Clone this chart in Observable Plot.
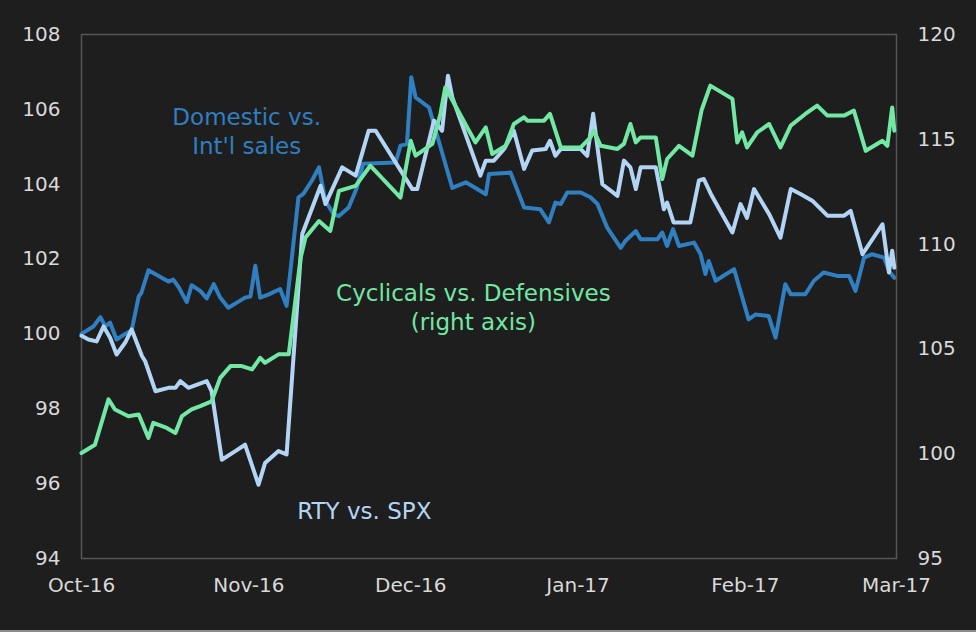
<!DOCTYPE html>
<html><head><meta charset="utf-8">
<script src="https://cdn.jsdelivr.net/npm/d3@7"></script>
<script src="https://cdn.jsdelivr.net/npm/@observablehq/plot@0.6"></script>
<style>
html,body{margin:0;padding:0;background:#1e1e1e;}
#chart{width:976px;height:632px;background:#1e1e1e;box-shadow:inset 0 -2px 0 #8c8c8c;}
#chart svg{display:block;}
</style></head><body><div id="chart"></div>
<script>
// x positions are day offsets from 1 Oct 2016
const monthTicks = ["2016-10-01","2016-11-01","2016-12-01","2017-01-01","2017-02-01","2017-03-01"];
const leftTicks = [94, 96, 98, 100, 102, 104, 106, 108];
const rightTicks = [95, 100, 105, 110, 115, 120];

const domesticDays = [0,2.2,3.5,4.4,5.3,6.5,8.1,9.3,10.6,11.1,12.4,14.3,16.1,17.0,18.0,19.5,20.4,22.0,23.2,24.5,25.7,27.2,28.7,30.3,31.3,32.2,33.1,34.6,36.8,38.0,40.2,41.1,42.7,44.0,45.2,46.7,47.7,49.5,51.0,52.2,58.2,59.1,60.3,61.1,61.9,64.4,68.7,71.2,73.0,74.9,75.5,79.5,82.0,85.0,86.6,87.8,88.8,90.0,92.5,94.3,95.6,97.4,99.9,100.8,102.7,103.6,106.7,107.6,108.5,109.6,110.7,113.5,114.7,115.6,116.2,117.5,120.9,123.6,124.9,127.3,128.6,130.4,131.4,134.1,135.7,137.5,140.0,142.2,143.4,145.0,146.5,148.7,149.6,150.6];
const domesticValues = [100.0,100.2,100.45,100.2,100.3,99.85,100.0,100.1,101.0,101.1,101.7,101.55,101.4,101.45,101.25,100.85,101.3,101.15,100.95,101.33,100.97,100.7,100.83,100.97,101.0,101.82,100.97,101.05,101.2,100.75,103.65,103.74,104.1,104.45,103.55,103.2,103.15,103.38,103.9,104.55,104.58,105.03,105.07,106.86,106.32,106.05,103.9,104.05,103.9,103.73,104.27,104.31,103.38,103.33,102.98,103.51,103.47,103.78,103.78,103.65,103.47,102.84,102.3,102.49,102.75,102.53,102.53,102.71,102.35,102.8,102.35,102.44,102.13,101.6,101.95,101.42,101.73,100.39,100.52,100.48,99.9,101.33,101.06,101.06,101.42,101.64,101.55,101.55,101.15,102.04,102.13,102.04,101.68,101.5];

const rtyDays = [0,1.3,2.8,4.1,5.3,6.5,8.1,9.3,11.2,11.8,13.7,16.1,17.4,18.3,19.8,23.2,24.1,26.0,28.5,30.3,32.8,34.0,36.5,38.0,40.9,44.3,45.2,48.3,50.8,53.2,54.5,61.3,62.2,65.3,66.8,67.9,68.7,73.9,74.9,76.4,78.3,80.1,82.0,83.5,86.0,86.8,87.8,88.8,92.5,93.7,94.8,95.6,96.5,99.3,100.5,101.7,102.7,103.6,106.4,107.3,107.9,108.5,109.7,112.8,114.4,115.3,116.6,120.6,122.1,123.3,124.6,127.4,129.5,131.4,133.2,135.4,138.2,141.3,142.5,144.7,148.4,149.6,150.2,150.6];
const rtyValues = [99.95,99.85,99.8,100.2,99.9,99.45,99.77,100.12,99.41,99.27,98.47,98.56,98.56,98.74,98.56,98.74,98.47,96.64,96.87,97.04,95.97,96.55,96.87,96.78,102.67,103.96,103.47,104.45,104.23,105.43,105.43,103.87,103.87,105.7,105.43,106.9,106.32,104.23,104.63,104.63,104.94,105.43,104.41,104.9,104.94,105.16,104.76,104.94,104.94,104.76,105.88,104.98,104.0,103.69,104.63,104.45,103.87,104.45,104.45,103.78,103.33,103.51,102.98,102.98,104.1,104.14,103.74,102.71,103.47,103.1,103.87,103.2,102.57,103.87,103.74,103.56,103.16,103.16,103.29,102.13,102.93,101.64,102.22,101.77];

const cyclicalDays = [0,2.5,5.0,6.2,8.7,10.6,12.4,13.3,15.8,17.4,18.6,20.4,22.0,24.1,25.7,27.6,29.7,31.6,33.1,34.0,36.5,38.4,40.6,41.5,44.0,46.1,47.7,50.8,53.5,59.1,61.0,61.9,65.0,66.5,67.4,71.8,73.0,74.9,76.1,78.6,80.1,82.0,82.6,85.7,86.8,88.8,92.5,94.3,94.9,96.2,99.3,100.5,101.7,102.7,103.6,106.4,107.6,108.5,110.7,113.2,114.9,116.5,120.6,121.5,122.4,123.3,125.2,127.4,129.5,131.4,134.1,136.3,138.2,141.3,143.1,145.3,148.4,149.3,150.2,150.6];
const cyclicalValues = [100.03,100.43,102.59,102.11,101.79,101.87,100.75,101.47,101.23,100.99,101.79,102.11,102.27,102.5,103.62,104.18,104.18,104.02,104.57,104.34,104.74,104.74,109.35,110.31,111.1,110.63,112.54,112.78,113.74,112.22,114.93,114.22,114.78,116.21,117.48,115.41,114.85,115.57,114.3,114.69,115.73,116.05,115.89,115.89,116.21,114.61,114.61,115.09,115.41,114.69,114.54,114.78,115.73,114.85,115.09,115.09,113.1,114.06,114.69,114.22,116.4,117.56,116.93,114.85,115.33,114.61,115.33,115.73,114.61,115.65,116.21,116.61,116.13,116.13,116.37,114.45,114.93,114.69,116.52,115.41];

const labelTexts = ["Domestic vs.\nInt'l sales", "Cyclicals vs. Defensives\n(right axis)", "RTY vs. SPX"];
const labelDays = [30.6, 72.6, 52.4];
const labelValues = [105.44, 100.73, 95.29];

const start = Date.UTC(2016, 9, 1);
const toDate = d => new Date(start + d * 864e5);
const toLeft = v => 94 + (v - 95) * 14 / 25;
const fromLeft = v => 95 + (v - 94) * 25 / 14;
const series = (days, vals, f = v => v) => days.map((d, i) => ({date: toDate(d), value: f(vals[i])}));

const domestic = series(domesticDays, domesticValues);
const rty = series(rtyDays, rtyValues);
const cyclical = series(cyclicalDays, cyclicalValues, toLeft);
const labels = labelTexts.map((t, i) => ({text: t, date: toDate(labelDays[i]), value: labelValues[i], k: i}));

const cDom = "#2f7fc1", cRty = "#b3d5f5", cCyc = "#72e8a4";

const chart = Plot.plot({
  width: 976, height: 632,
  marginLeft: 81, marginRight: 80, marginTop: 34, marginBottom: 74,
  style: {background: "transparent", color: "#d9d9d9", fontFamily: "'DejaVu Sans', sans-serif", fontSize: "20px"},
  x: {type: "utc", domain: [toDate(0), new Date("2017-03-01")]},
  y: {domain: [94, 108]},
  marks: [
    Plot.frame({stroke: "#565656", strokeWidth: 1.5}),
    Plot.axisX({ticks: monthTicks.map(d => new Date(d)), tickFormat: d3.utcFormat("%b-%y"), tickSize: 0, tickPadding: 19, label: null, fontSize: 20}),
    Plot.axisY({ticks: leftTicks, tickSize: 0, tickPadding: 21, label: null, fontSize: 20}),
    Plot.axisY({anchor: "right", ticks: rightTicks.map(toLeft), tickFormat: d => String(Math.round(fromLeft(d))), tickSize: 0, tickPadding: 21, label: null, fontSize: 20}),
    Plot.line(domestic, {x: "date", y: "value", stroke: cDom, strokeWidth: 4}),
    Plot.line(rty, {x: "date", y: "value", stroke: cRty, strokeWidth: 4}),
    Plot.line(cyclical, {x: "date", y: "value", stroke: cCyc, strokeWidth: 4}),
    Plot.text(labels, {x: "date", y: "value", text: "text", fill: d => [cDom, cCyc, cRty][d.k], fontSize: 23, lineHeight: 1.26, textAnchor: "middle", lineAnchor: "middle"})
  ]
});
document.getElementById("chart").appendChild(chart);
</script></body></html>
